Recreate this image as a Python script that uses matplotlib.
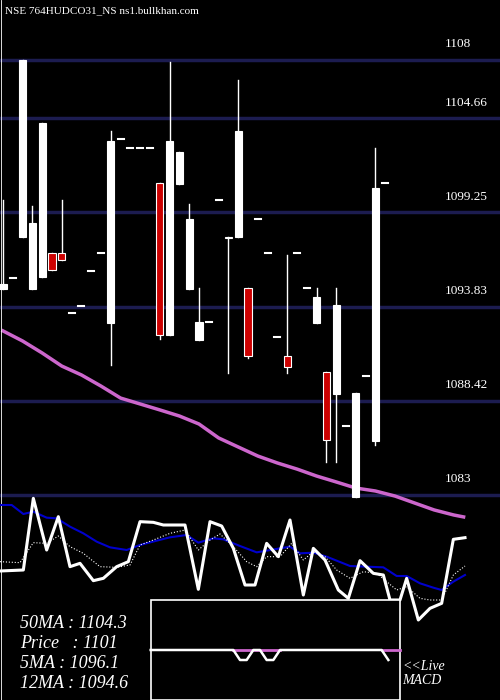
import matplotlib
matplotlib.use("Agg")
import matplotlib.pyplot as plt
from matplotlib.patches import Rectangle

# candles: open, high, low, close
opens = [1094.84, 1095.47, 1097.83, 1094.84, 1095.53, 1096.91, 1096.91, 1093.46, 1093.86, 1095.87,
         1096.91, 1092.89, 1103.46, 1102.94, 1102.94, 1102.94, 1100.93, 1092.20, 1100.87, 1094.84,
         1091.91, 1092.94, 1099.95, 1097.83, 1097.83, 1094.90, 1098.86, 1096.91, 1092.08, 1090.99,
         1096.91, 1094.90, 1092.89, 1090.07, 1088.80, 1086.97, 1082.89, 1089.84, 1086.10, 1100.93]
closes = [1095.13, 1095.47, 1108.00, 1098.63, 1104.38, 1095.93, 1096.51, 1093.46, 1093.86, 1095.87,
          1096.91, 1103.34, 1103.46, 1102.94, 1102.94, 1102.94, 1092.20, 1103.34, 1102.71, 1098.86,
          1092.94, 1092.94, 1099.95, 1097.75, 1103.92, 1090.99, 1098.86, 1096.91, 1092.08, 1090.36,
          1096.91, 1094.90, 1094.38, 1086.16, 1093.92, 1086.97, 1088.86, 1089.84, 1100.64, 1100.93]
highs = [1099.95, 1095.47, 1108.00, 1099.61, 1104.38, 1096.91, 1099.95, 1093.46, 1093.86, 1095.87,
         1096.91, 1103.92, 1103.46, 1102.94, 1102.94, 1102.94, 1100.93, 1107.89, 1102.71, 1099.72,
         1094.90, 1092.94, 1099.95, 1097.83, 1106.85, 1094.90, 1098.86, 1096.91, 1092.08, 1096.79,
         1096.91, 1094.90, 1094.90, 1090.07, 1094.90, 1086.97, 1088.86, 1089.84, 1102.94, 1100.93]
lows = [1094.84, 1095.47, 1097.83, 1094.84, 1095.53, 1095.93, 1096.51, 1093.46, 1093.86, 1095.87,
        1096.91, 1090.47, 1103.46, 1102.94, 1102.94, 1102.94, 1091.97, 1092.20, 1100.87, 1094.84,
        1091.91, 1092.94, 1099.95, 1090.01, 1097.83, 1090.90, 1098.86, 1096.91, 1092.08, 1090.01,
        1096.91, 1094.90, 1092.89, 1084.90, 1084.90, 1086.97, 1082.89, 1089.84, 1085.87, 1100.93]

# long moving average (every 2nd candle index)
ma_idx = [0, 2, 4, 6, 8, 10, 12, 14, 16, 18, 20, 22, 24, 26, 28, 30, 32, 34, 36, 38, 40, 42, 44, 46, 47]
ma_val = [1092.43, 1091.85, 1091.16, 1090.41, 1089.90, 1089.26, 1088.57, 1088.23, 1087.89, 1087.54,
          1087.08, 1086.28, 1085.76, 1085.24, 1084.84, 1084.49, 1084.09, 1083.75, 1083.40, 1083.23,
          1082.94, 1082.54, 1082.14, 1081.85, 1081.74]

price_ticks = [1108, 1104.66, 1099.25, 1093.83, 1088.42, 1083]

# lower panel (panel units)
osc_x = [0, 70, 100, 140, 175, 210, 240, 280, 310, 350, 385, 420, 460, 490, 555, 595, 630, 665, 700, 735,
         765, 800, 835, 870, 910, 940, 975, 1015, 1045, 1080, 1120, 1150, 1170, 1200, 1220, 1255, 1290,
         1325, 1360, 1395]
osc_y = [243, 240, 25, 180, 80, 230, 220, 272, 265, 230, 215, 95, 97, 105, 105, 298, 95, 108, 175, 285,
         285, 160, 200, 90, 315, 175, 210, 300, 325, 212, 250, 255, 330, 330, 265, 390, 355, 340, 148, 143]
blue_x = [0, 35, 70, 100, 140, 170, 210, 250, 290, 330, 380, 420, 470, 510, 560, 595, 640, 670, 720, 770,
          800, 840, 870, 900, 940, 980, 1050, 1100, 1150, 1190, 1220, 1260, 1300, 1325, 1360, 1395]
blue_y = [45, 45, 72, 65, 83, 85, 110, 130, 155, 172, 180, 165, 152, 142, 135, 158, 145, 148, 168, 187,
          182, 175, 170, 190, 188, 200, 228, 230, 232, 258, 258, 280, 293, 300, 275, 255]
dot_x = [0, 60, 100, 140, 175, 210, 250, 300, 350, 390, 420, 460, 510, 555, 595, 630, 660, 700, 740, 770,
         800, 840, 875, 910, 940, 975, 1010, 1050, 1090, 1130, 1160, 1190, 1220, 1260, 1290, 1325, 1360, 1395]
dot_y = [215, 218, 158, 160, 138, 170, 190, 230, 232, 225, 165, 150, 130, 120, 180, 150, 132, 170, 215, 230,
         200, 200, 160, 210, 185, 200, 240, 265, 245, 250, 275, 300, 290, 325, 330, 330, 255, 228]
macd_x = [452, 700, 720, 740, 760, 780, 800, 820, 840, 1145, 1165]
macd_y = [480, 480, 510, 510, 480, 480, 510, 510, 480, 480, 510]

fig = plt.figure(figsize=(5, 7), dpi=100, facecolor='black')
ax = fig.add_axes([0, 0, 1, 1])
ax.set_facecolor('black')
ax.set_xlim(-3 / 9.8, 497 / 9.8)
ax.set_ylim(1108 - 640 / 17.4, 1108 + 60 / 17.4)
ax.axis('off')

for t in price_ticks:
    ax.axhline(t, color='#1c1c50', lw=2.5, zorder=1)
    ax.text(45.1, t + 0.55, f'{t:g}', color='white', fontsize=9.5,
            family='Liberation Serif', va='bottom', ha='left', zorder=5)

for i in range(len(opens)):
    o, h, l, c = opens[i], highs[i], lows[i], closes[i]
    ax.plot([i, i], [l, h], color='white', lw=1, zorder=2)
    if o == c:
        ax.plot([i - 0.3, i + 0.3], [o, c], color='white', lw=1.5, zorder=3)
        continue
    color = 'white' if c > o else '#cc0000'
    ax.add_patch(Rectangle((i - 0.36, min(o, c)), 0.72, abs(c - o), facecolor=color,
                           edgecolor='white', lw=0.8, zorder=3))

ax.plot(ma_idx, ma_val, color='#cc66cc', lw=2.5, zorder=2)
ax.axvline(-0.2, color='white', lw=0.6)

# lower panel
bx = fig.add_axes([0, 0, 1, 210 / 700])
bx.patch.set_alpha(0)
bx.set_xlim(0, 1500)
bx.set_ylim(630, 0)
bx.axis('off')
bx.plot(blue_x, blue_y, color='#0000cc', lw=1.5, zorder=2)
bx.plot(dot_x, dot_y, color='white', lw=0.8, ls=':', zorder=2)
bx.plot(osc_x, osc_y, color='white', lw=2.2, zorder=3)
bx.add_patch(Rectangle((452, 330), 748, 300, facecolor='black', edgecolor='white', lw=1.2, zorder=4))
bx.plot([700, 840], [480, 480], color='#cc66cc', lw=2, zorder=5)
bx.plot([1145, 1200], [480, 480], color='#cc66cc', lw=2, zorder=5)
bx.plot(macd_x, macd_y, color='white', lw=1.8, zorder=6)

fig.text(0.01, 0.985, 'NSE 764HUDCO31_NS ns1.bullkhan.com', color='white', fontsize=8,
         family='Liberation Serif', va='center')
legend = ['50MA : 1104.3', 'Price   : 1101', '5MA : 1096.1', '12MA : 1094.6']
for k, s in enumerate(legend):
    fig.text(0.04, 1 - (624 + 20 * k) / 700, s, color='white', fontsize=13,
             family='Liberation Serif', style='italic', va='center')
fig.text(0.804, 1 - 666 / 700, '<<Live', color='white', fontsize=10, family='Liberation Serif',
         style='italic', va='center')
fig.text(0.804, 1 - 681 / 700, 'MACD', color='white', fontsize=10, family='Liberation Serif',
         style='italic', va='center')

fig.savefig('out.png', dpi=100, facecolor='black')
